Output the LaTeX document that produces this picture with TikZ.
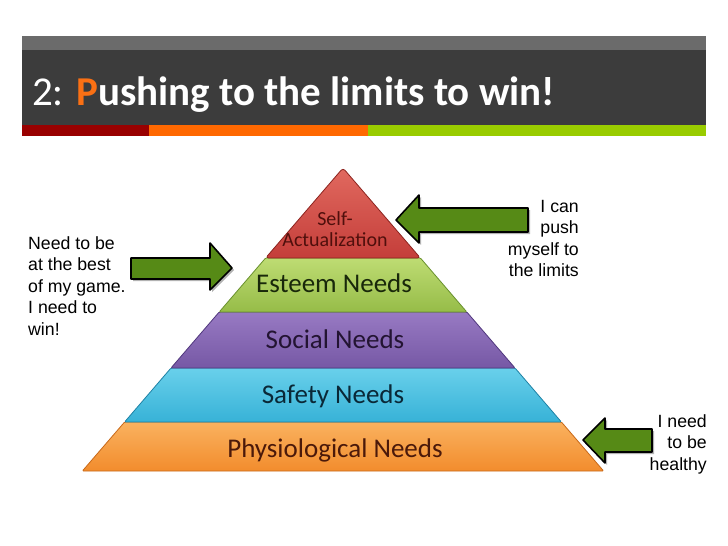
\documentclass[tikz,border=0pt]{standalone}
\usepackage{fontspec}
\newfontfamily\carlito{Carlito}
\newfontfamily\arial{Liberation Sans}
\definecolor{titletop}{RGB}{107,107,107}
\definecolor{titledark}{RGB}{60,60,60}
\definecolor{stripred}{RGB}{153,0,0}
\definecolor{stripor}{RGB}{255,104,0}
\definecolor{stripgr}{RGB}{153,204,0}
\definecolor{titleP}{RGB}{250,112,20}
\definecolor{redB}{RGB}{196,62,58}\definecolor{redL}{RGB}{225,105,95}\definecolor{redD}{RGB}{140,35,30}\definecolor{redT}{RGB}{80,15,12}
\definecolor{grnB}{RGB}{150,188,72}\definecolor{grnL}{RGB}{190,220,115}\definecolor{grnD}{RGB}{105,145,45}\definecolor{grnT}{RGB}{25,40,10}
\definecolor{purB}{RGB}{118,88,165}\definecolor{purL}{RGB}{152,122,195}\definecolor{purD}{RGB}{80,55,125}\definecolor{purT}{RGB}{35,20,50}
\definecolor{cyaB}{RGB}{55,178,215}\definecolor{cyaL}{RGB}{105,208,235}\definecolor{cyaD}{RGB}{30,130,165}\definecolor{cyaT}{RGB}{10,40,55}
\definecolor{oraB}{RGB}{242,140,45}\definecolor{oraL}{RGB}{250,178,95}\definecolor{oraD}{RGB}{200,105,25}\definecolor{oraT}{RGB}{75,25,10}
\definecolor{arrowgreen}{RGB}{86,138,22}
\begin{document}
\begin{tikzpicture}[x=1pt,y=-1pt,
  layer/.style={line width=0.8pt, rounded corners=1pt},
  layertext/.style={anchor=base, inner sep=0pt, font=\carlito\fontsize{27}{27}\selectfont},
  blockarrow/.style={fill=arrowgreen, draw=black, line width=1.6pt, line join=round},
  arrowshadow/.style={fill=black, opacity=0.3},
  sidetext/.style={inner sep=0pt, font=\arial\fontsize{17.7}{21.6}\selectfont, text=black}]
\useasboundingbox (0,0) rectangle (728,546);
\fill[white] (0,0) rectangle (728,546);
% title bar
\fill[titletop] (22,36) rectangle (706,50);
\fill[titledark] (22,50) rectangle (706,125);
\fill[stripred] (22,125) rectangle (149,136);
\fill[stripor] (149,125) rectangle (368,136);
\fill[stripgr] (368,125) rectangle (706,136);
\node[anchor=base west, inner sep=0pt, text=white, font=\carlito\fontsize{41}{41}\selectfont] (title) at (32,105)
  {2: \textbf{\textcolor{titleP}{P}ushing to the limits to win!}};
% pyramid layers
\path[layer, top color=oraL, bottom color=oraB, draw=oraD] (124.6,422) -- (561.4,422) -- (603.6,471) -- (82.4,471) -- cycle;
\path[layer, top color=cyaL, bottom color=cyaB, draw=cyaD] (171,368) -- (515,368) -- (561.4,422) -- (124.6,422) -- cycle;
\path[layer, top color=purL, bottom color=purB, draw=purD] (219.2,312) -- (466.8,312) -- (515,368) -- (171,368) -- cycle;
\path[layer, top color=grnL, bottom color=grnB, draw=grnD] (265.6,258) -- (420.4,258) -- (466.8,312) -- (219.2,312) -- cycle;
\path[layer, rounded corners=3pt, top color=redL, bottom color=redB, draw=redD] (343,168) -- (420.4,258) -- (265.6,258) -- cycle;
% layer labels
\node[layertext, text=redT, align=center, font=\carlito\fontsize{20}{21}\selectfont] (self) at (335,246) {Self-\\Actualization};
\node[layertext, text=grnT] (esteem) at (334,292) {Esteem Needs};
\node[layertext, text=purT] (social) at (335,348) {Social Needs};
\node[layertext, text=cyaT] (safety) at (333,403) {Safety Needs};
\node[layertext, text=oraT] (physio) at (335,457) {Physiological Needs};
% arrows (shadows)
\fill[arrowshadow] (398,222) -- (421,197) -- (421,210) -- (530,210) -- (530,234) -- (421,234) -- (421,245) -- cycle;
\fill[arrowshadow] (234,270) -- (212,245) -- (212,260) -- (133,260) -- (133,281) -- (212,281) -- (212,292) -- cycle;
\fill[arrowshadow] (585,442) -- (607,420) -- (607,431) -- (654,431) -- (654,454) -- (607,454) -- (607,465) -- cycle;
% arrows
\draw[blockarrow] (396,220) -- (419,195) -- (419,208) -- (528,208) -- (528,232) -- (419,232) -- (419,243) -- cycle;
\draw[blockarrow] (232,268) -- (210,243) -- (210,258) -- (131,258) -- (131,279) -- (210,279) -- (210,290) -- cycle;
\draw[blockarrow] (583,440) -- (605,418) -- (605,429) -- (652,429) -- (652,452) -- (605,452) -- (605,463) -- cycle;
% side texts
\node[sidetext, anchor=base west] (lefttext) at (28,249)
  {\begin{tabular}[t]{@{}l@{}}Need to be\\at the best\\of my game.\\I need to\\win!\end{tabular}};
\node[sidetext, anchor=base east] (toptext) at (579,212)
  {\begin{tabular}[t]{@{}r@{}}I can\\push\\myself to\\the limits\end{tabular}};
\node[sidetext, anchor=base east] (bottomtext) at (707,427)
  {\begin{tabular}[t]{@{}r@{}}I need\\to be\\healthy\end{tabular}};
\end{tikzpicture}
\end{document}
